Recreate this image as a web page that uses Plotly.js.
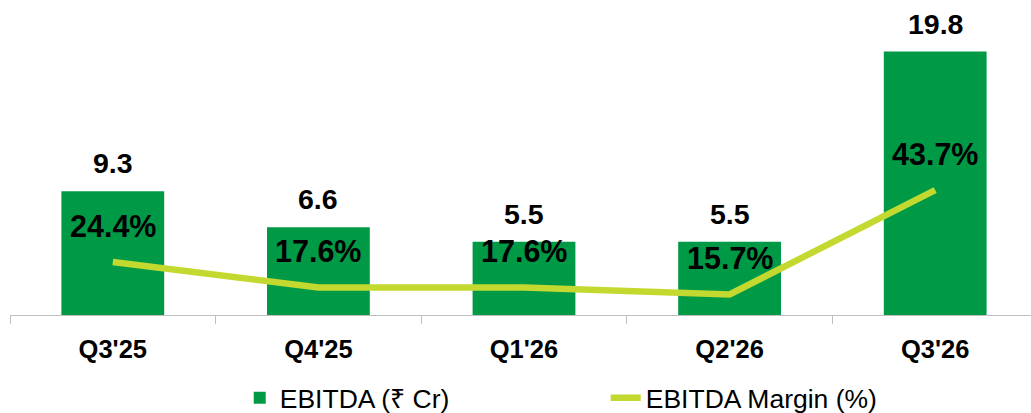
<!DOCTYPE html>
<html>
<head>
<meta charset="utf-8">
<script src="https://cdn.plot.ly/plotly-3.0.1.min.js"></script>
<style>html,body{margin:0;padding:0;background:#fff;}#chart{width:1031px;height:413px;}</style>
</head>
<body>
<div id="chart"></div>
<script>
const categories = ["Q3'25", "Q4'25", "Q1'26", "Q2'26", "Q3'26"];
const ebitda = [9.3, 6.6, 5.5, 5.5, 19.8];
const ebitdaLabels = ["9.3", "6.6", "5.5", "5.5", "19.8"];
const margin = [24.4, 17.6, 17.6, 15.7, 43.7];
const marginLabels = ["24.4%", "17.6%", "17.6%", "15.7%", "43.7%"];
const seriesNames = ["EBITDA (₹ Cr)", "EBITDA Margin (%)"];

const FONT = "'Liberation Sans', Arial, sans-serif";
const BAR = "#009a47";
const LINE = "#c3d930";

const traces = [
  {
    type: "bar", name: seriesNames[0], x: categories, y: ebitda,
    marker: {color: BAR}, hoverinfo: "skip"
  },
  {
    type: "scatter", mode: "lines", name: seriesNames[1], x: categories, y: margin,
    yaxis: "y2", line: {color: LINE, width: 6.5}, hoverinfo: "skip"
  }
];

const annotations = [];
categories.forEach((c, i) => {
  annotations.push({
    x: c, y: ebitda[i], xref: "x", yref: "y", text: "<b>" + ebitdaLabels[i] + "</b>",
    showarrow: false, yanchor: "middle", yshift: 28,
    font: {family: FONT, size: 28.5, color: "#000"}
  });
  annotations.push({
    x: c, y: margin[i], xref: "x", yref: "y2", text: "<b>" + marginLabels[i] + "</b>",
    showarrow: false, yanchor: "middle", yshift: 36,
    font: {family: FONT, size: 30.5, color: "#000"}
  });
});

const layout = {
  width: 1031, height: 413,
  margin: {l: 10, r: 0, t: 5, b: 98, autoexpand: false},
  paper_bgcolor: "#fff", plot_bgcolor: "#fff",
  bargap: 0.5,
  showlegend: true,
  legend: {
    orientation: "h", x: 0.225, xanchor: "left", y: -0.19, yanchor: "top",
    font: {family: FONT, size: 26.5, color: "#000"},
    entrywidth: 321, traceorder: "normal"
  },
  xaxis: {
    type: "category", range: [-0.5, 4.466],
    showline: true, linecolor: "#bfbfbf", linewidth: 1.3,
    ticks: "outside", tickson: "boundaries", ticklen: 8, tickcolor: "#bfbfbf",
    ticklabelstandoff: 11,
    tickfont: {family: FONT, size: 25.5, color: "#000", weight: "bold"},
    showgrid: false, zeroline: false, fixedrange: true
  },
  yaxis: {
    range: [0, 23.3], visible: false, showgrid: false, zeroline: false, fixedrange: true
  },
  yaxis2: {
    range: [10.2, 93.3], overlaying: "y", visible: false, showgrid: false, zeroline: false, fixedrange: true
  },
  annotations: annotations
};

Plotly.newPlot("chart", traces, layout, {displayModeBar: false, staticPlot: true});
</script>
</body>
</html>
